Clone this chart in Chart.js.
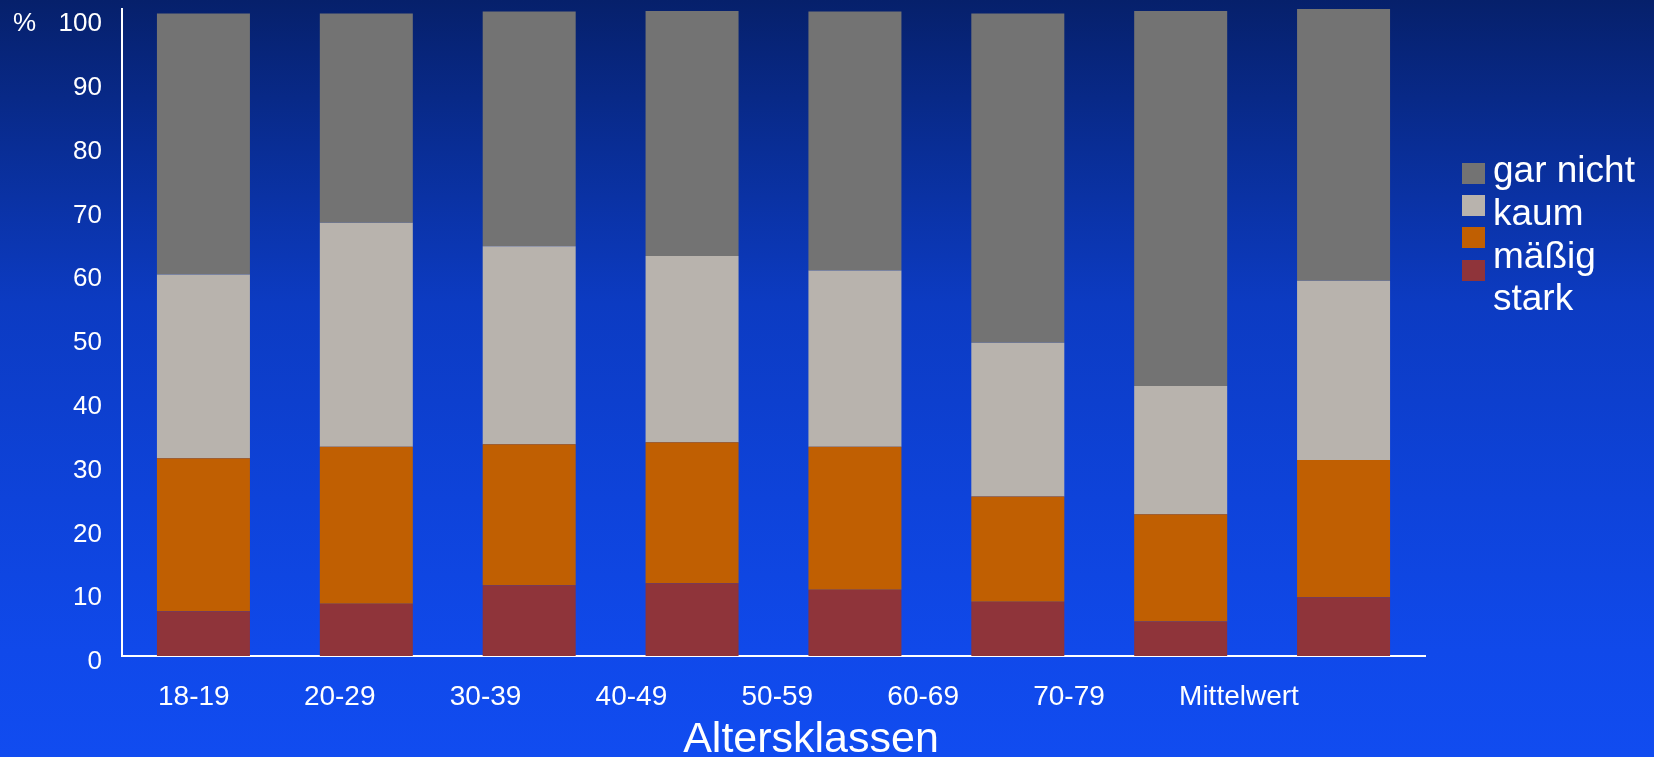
<!DOCTYPE html>
<html lang="de">
<head>
<meta charset="utf-8">
<title>Altersklassen</title>
<script src="https://cdn.jsdelivr.net/npm/chart.js@4/dist/chart.umd.min.js"></script>
<style>
  html, body { margin: 0; padding: 0; }
  body {
    width: 1654px;
    height: 757px;
    overflow: hidden;
    position: relative;
    font-family: "Liberation Sans", Arial, sans-serif;
    color: #fff;
    background: linear-gradient(to bottom, #06206b 0%, #0a32a4 26%, #0c3bc2 40%, #0e43da 66%, #1049ea 86%, #114cf0 100%);
  }
  #chart { position: absolute; left: 0; top: 0; }
  .legend-box { position: absolute; left: 1462px; width: 23px; height: 21px; }
  .legend-text {
    position: absolute;
    left: 1493px;
    top: 149px;
    font-size: 37px;
    line-height: 42.8px;
    white-space: nowrap;
  }
</style>
</head>
<body>
<canvas id="chart" width="1654" height="757"></canvas>
<div id="legend"></div>

<script>
// age groups along the x axis
const ageGroups = ["18-19", "20-29", "30-39", "40-49", "50-59", "60-69", "70-79", "Mittelwert"];

// percentages per answer, bottom of the stack first
const stark    = [7.0, 8.2, 11.1, 11.4, 10.4, 8.5, 5.4, 9.2];
const maessig  = [24.0, 24.6, 22.1, 22.1, 22.4, 16.5, 16.8, 21.5];
const kaum     = [28.8, 35.1, 31.0, 29.2, 27.6, 24.1, 20.1, 28.1];
const garNicht = [40.9, 32.8, 36.8, 38.4, 40.6, 51.6, 58.8, 42.6];

const seriesNames  = ["stark", "mäßig", "kaum", "gar nicht"];
const seriesValues = [stark, maessig, kaum, garNicht];
const seriesColors = ["#8f343a", "#c05f02", "#b8b3ad", "#737373"];

const yTicks = [0, 10, 20, 30, 40, 50, 60, 70, 80, 90, 100];
const axisTitle = "Altersklassen";

const FONT = '"Liberation Sans", Arial, sans-serif';
const Y_LABEL_SHIFT = 6;
Chart.defaults.font.family = FONT;
Chart.defaults.color = "#fff";

// "%" next to the top tick and the x axis caption
const captions = {
  id: "captions",
  afterDraw(chart) {
    const { ctx } = chart;
    const y = chart.scales.y;
    ctx.save();
    ctx.fillStyle = "#fff";
    ctx.font = "26px " + FONT;
    ctx.textAlign = "left";
    ctx.textBaseline = "middle";
    ctx.fillText("%", 13, y.getPixelForValue(100) + Y_LABEL_SHIFT);
    ctx.font = "43px " + FONT;
    ctx.textAlign = "center";
    ctx.textBaseline = "alphabetic";
    ctx.fillText(axisTitle, 811, 752);
    ctx.restore();
  }
};

new Chart(document.getElementById("chart"), {
  type: "bar",
  data: {
    labels: ageGroups,
    datasets: seriesNames.map((name, i) => ({
      label: name,
      data: seriesValues[i],
      backgroundColor: seriesColors[i],
      borderWidth: 0,
      barPercentage: 0.571,
      categoryPercentage: 1
    }))
  },
  options: {
    responsive: false,
    animation: false,
    layout: { padding: { top: 9, right: 229, bottom: 0, left: 0 } },
    plugins: {
      legend: { display: false },
      tooltip: { enabled: false }
    },
    scales: {
      x: {
        stacked: true,
        display: false
      },
      // separate axis for the age labels, they sit a bit tighter than the bars
      xLabels: {
        type: "linear",
        position: "bottom",
        offset: false,
        min: -0.247,
        max: 8.686,
        afterBuildTicks: (s) => { s.ticks = ageGroups.map((_, i) => ({ value: i })); },
        afterFit: (s) => {
          s.height = 101;
          s.paddingLeft = 0;
          s.paddingRight = 0;
        },
        ticks: {
          color: "#fff",
          font: { size: 28 },
          align: "start",
          padding: 24,
          maxRotation: 0,
          autoSkip: false,
          callback: (v) => ageGroups[v]
        },
        grid: { display: false, offset: false, drawTicks: false, tickLength: 0 },
        border: { display: true, color: "#fff", width: 2 }
      },
      y: {
        stacked: true,
        min: 0,
        max: 101.4,
        afterBuildTicks: (s) => { s.ticks = yTicks.map((v) => ({ value: v })); },
        afterFit: (s) => {
          s.width = 122;
          s.paddingTop = 0;
          s.paddingBottom = 0;
        },
        ticks: {
          color: "#fff",
          font: { size: 26 },
          padding: 20,
          labelOffset: Y_LABEL_SHIFT
        },
        grid: { display: false, drawTicks: false, tickLength: 0 },
        border: { display: true, color: "#fff", width: 2 }
      }
    }
  },
  plugins: [captions]
});

// legend on the right, top entry first
const legend = document.getElementById("legend");
const order = seriesNames.map((_, i) => i).reverse();
order.forEach((idx, row) => {
  const box = document.createElement("div");
  box.className = "legend-box";
  box.style.top = (163 + row * 32.2) + "px";
  box.style.background = seriesColors[idx];
  legend.appendChild(box);
});
const text = document.createElement("div");
text.className = "legend-text";
text.innerHTML = order.map((idx) => seriesNames[idx]).join("<br>");
legend.appendChild(text);
</script>
</body>
</html>
